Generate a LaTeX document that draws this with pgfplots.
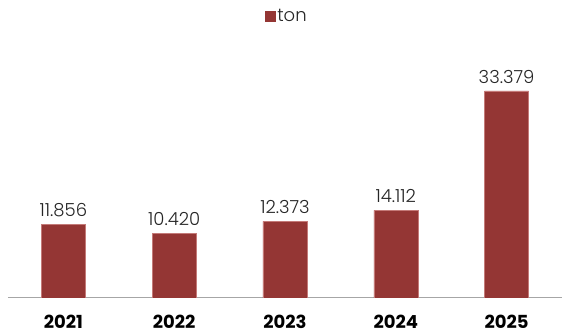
\documentclass[border=0pt]{standalone}
\usepackage{pgfplots}
\pgfplotsset{compat=1.18}
\usepackage{fontspec}
\setmainfont{Poppins}
\newfontfamily\lightfont{Poppins Light}
\definecolor{barfill}{HTML}{943634}
\definecolor{baredge}{HTML}{C47A78}
\definecolor{axisgray}{HTML}{A6A6A6}
\definecolor{labelgray}{HTML}{262626}
\begin{document}
\begin{tikzpicture}
\useasboundingbox (0,0) rectangle (562pt,336pt);
\begin{axis}[
  at={(8pt,38pt)}, anchor=south west,
  scale only axis,
  width=554pt, height=258pt,
  xmin=-0.5, xmax=4.5,
  ymin=0, ymax=41.6,
  axis x line*=bottom,
  axis y line=none,
  x axis line style={draw=axisgray, line width=1pt, -},
  xtick={0,1,2,3,4},
  xticklabels={2021,2022,2023,2024,2025},
  xtick style={draw=none},
  xticklabel style={font=\fontsize{18}{21}\selectfont\bfseries, text=black,
    text height=13pt, text depth=0pt, yshift=-10pt},
  ybar, bar width=44pt,
  nodes near coords,
  point meta=explicit symbolic,
  every node near coord/.append style={font=\fontsize{18}{21}\lightfont, text=labelgray,
    text height=13pt, text depth=0pt, yshift=4pt},
  legend style={draw=none, fill=none, at={(0.503,1.093)}, anchor=center,
    font=\fontsize{18}{21}\lightfont, text=labelgray, inner sep=0pt},
  legend image code/.code={\fill[barfill] (0pt,-5pt) rectangle (10pt,5pt);},
]
\addplot[fill=barfill, draw=baredge, line width=0.6pt] coordinates {
  (0,11.856) [11.856]
  (1,10.420) [10.420]
  (2,12.373) [12.373]
  (3,14.112) [14.112]
  (4,33.379) [33.379]
};
\addlegendentry{ton}
\end{axis}
\end{tikzpicture}
\end{document}
